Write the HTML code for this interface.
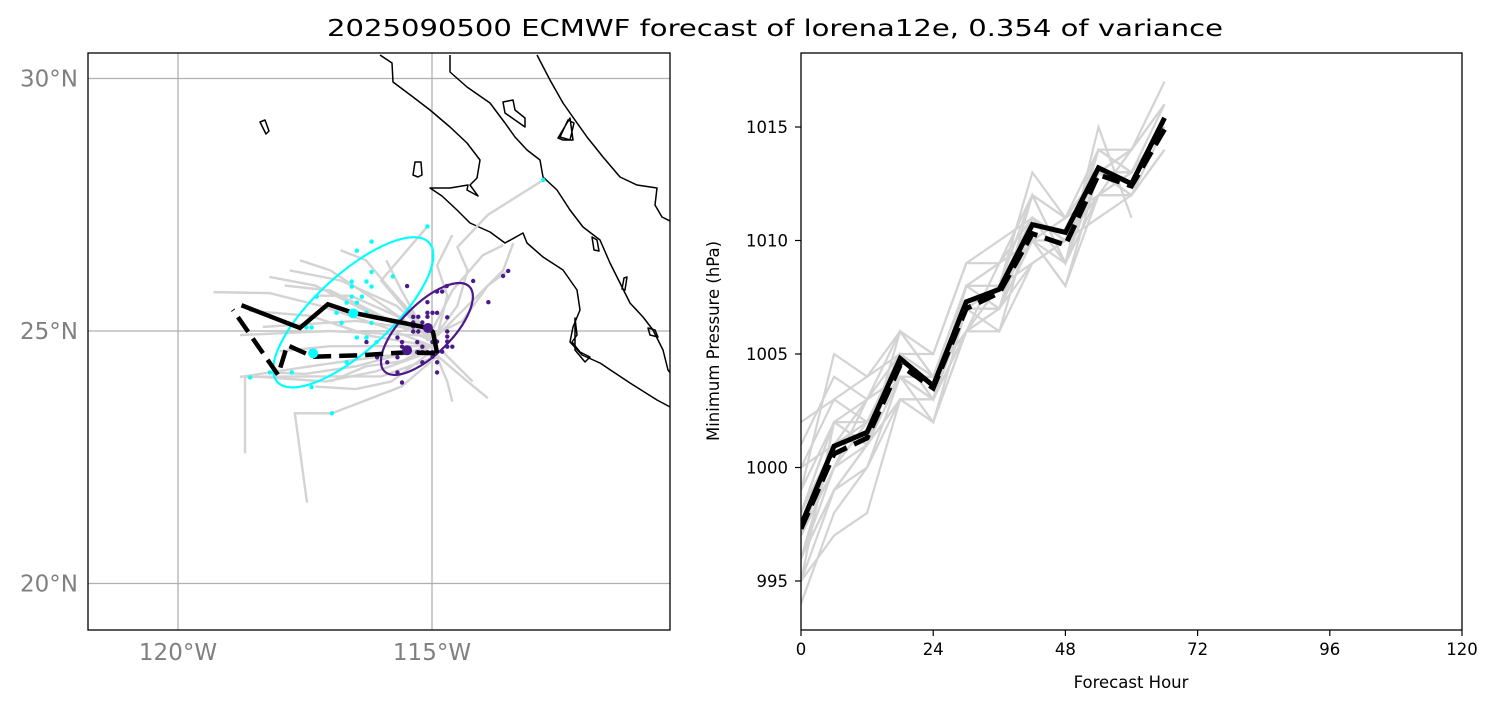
<!DOCTYPE html>
<html><head><meta charset="utf-8"><style>
html,body{margin:0;padding:0;background:#fff;}
svg{display:block;font-family:"DejaVu Sans","Liberation Sans",sans-serif;}
</style></head><body>
<svg id="fig" width="1496" height="708" viewBox="0 0 1496 708">
<defs><clipPath id="mapclip"><rect x="88" y="53" width="582" height="577"/></clipPath>
<clipPath id="pclip"><rect x="801" y="53" width="661" height="577"/></clipPath></defs>
<text x="775" y="36" text-anchor="middle" font-size="23" textLength="896" lengthAdjust="spacingAndGlyphs">2025090500 ECMWF forecast of lorena12e, 0.354 of variance</text>
<g id="map"></g>
<g id="pres"></g>
</svg>
<script>
// ---------- MAP DATA ----------
const latTicks=[20,25,30];
const lonTicks=[-120,-115];
const meanTrack=[[-114.94,24.56],[-115.49,24.58],[-116.4,24.52],[-117.34,24.49],[-117.85,24.72],[-118.03,24.13],[-118.92,25.42]];
const detTrack=[[-114.9,24.56],[-114.98,24.98],[-115.08,25.06],[-116.55,25.36],[-117.05,25.53],[-117.6,25.06],[-118.75,25.51]];
const memberTracks=[
[[-115.0,24.7],[-116,25.1],[-117.2,25.5],[-118.2,25.75],[-119.3,25.77]],
[[-115.0,24.8],[-116.3,25.4],[-117.3,25.9],[-118.2,26.07]],
[[-115.1,24.9],[-116.1,25.6],[-117.0,26.2],[-117.6,26.4]],
[[-115.0,24.9],[-115.8,25.8],[-116.3,26.4],[-116.8,26.6]],
[[-114.9,24.6],[-116,24.5],[-117.4,24.3],[-118.78,24.09]],
[[-114.9,24.5],[-116.0,24.1],[-117.5,24.1],[-118.68,24.09],[-118.68,22.58]],
[[-114.9,24.5],[-115.6,23.9],[-116.97,23.37],[-117.7,23.37],[-117.46,21.6]],
[[-115.0,24.6],[-114.3,24.0],[-113.9,23.67]],
[[-115.0,24.8],[-114.5,25.5],[-114.3,26.2],[-114.5,26.66],[-113.9,27.3],[-112.81,27.99]],
[[-114.9,24.9],[-114.2,25.6],[-113.6,26.2],[-113.4,26.74]],
[[-115.0,25.0],[-116.5,25.2],[-118.33,25.08]],
[[-115.0,24.9],[-117,25.0],[-118.78,24.92]],
[[-115.0,24.8],[-116,26.0],[-115.09,27.07]],
[[-115.1,24.8],[-114.6,25.8],[-114.0,26.5],[-113.6,26.7]],
[[-115,24.7],[-116.5,24.3],[-117.5,24.15],[-118.2,24.18]],
[[-114.9,24.8],[-115.7,25.5],[-116.8,26.0],[-117.8,26.2]],
[[-114.95,24.6],[-114.7,24.0],[-114.6,23.6]],
[[-115,24.9],[-114.4,25.2],[-113.9,25.9],[-113.5,26.2]],
[[-115,24.7],[-115.6,24.4],[-116.3,24.3],[-117,24.0]],
[[-114.9,24.8],[-115.7,25.3],[-116.6,25.7],[-117.3,25.7]],
[[-115.0,24.7],[-116.2,24.9],[-117.4,25.3],[-118.6,25.4]],
[[-115.0,24.8],[-116.0,25.3],[-117.0,25.8],[-117.9,25.9]],
[[-114.9,24.7],[-116.0,24.7],[-117.0,24.7],[-118.0,24.6]],
[[-115.0,24.6],[-116.1,24.2],[-117.1,24.0],[-118.5,24.1]],
[[-114.8,24.6],[-114.5,24.3],[-114.2,24.0]],
[[-115.1,24.9],[-115.6,25.8],[-115.9,26.4]],
[[-114.9,24.9],[-114.7,25.7],[-114.9,26.3],[-114.6,26.9]],
[[-115.0,24.6],[-115.8,24.0],[-116.5,23.85],[-117.3,23.9]]
];
const cyanLon=[-115.09,-116.19,-116.48,-115.77,-116.19,-116.58,-116.29,-116.58,-116.19,-117.27,-116.58,-116.38,-116.68,-116.48,-116.88,-116.29,-116.78,-116.19,-116.09,-117.47,-117.37,-116.48,-116.29,-116.09,-116.68,-117.76,-118.19,-118.58,-117.37,-116.97,-112.81,-115.66];
const cyanLat=[27.07,26.77,26.59,26.08,26.17,25.98,25.98,25.88,25.88,25.68,25.68,25.68,25.56,25.56,25.36,25.36,25.16,25.16,25.27,25.07,25.07,24.87,24.87,24.78,24.38,24.18,24.18,24.08,23.89,23.37,27.99,25.16];
const purpLon=[-115.49,-114.71,-114.90,-114.80,-114.19,-113.60,-113.50,-113.89,-115.09,-115.37,-115.27,-115.09,-114.99,-114.90,-114.70,-115.09,-115.19,-115.37,-115.37,-115.27,-115.37,-114.70,-114.70,-114.70,-114.90,-116.29,-115.68,-115.59,-115.59,-115.29,-115.19,-114.70,-114.60,-115.29,-115.19,-115.09,-114.99,-114.99,-116.08,-115.68,-115.19,-114.90,-115.88,-115.68,-114.90,-115.59,-114.99,-114.80];
const purpLat=[25.89,25.89,25.78,25.78,25.99,26.09,26.19,25.57,25.57,25.28,25.28,25.36,25.36,25.36,25.27,25.28,25.17,25.17,25.09,24.99,24.99,24.99,24.89,24.79,24.79,24.78,24.87,24.78,24.69,24.78,24.69,24.69,24.69,24.58,24.58,24.58,24.58,24.49,24.48,24.48,24.38,24.38,24.38,24.18,24.18,23.98,24.78,24.59];
const cyanMean=[[-116.55,25.35],[-117.34,24.56]];
const purpMean=[[-115.08,25.06],[-115.49,24.62]];

// ---------- PRESSURE DATA ----------
const hours=[0,6,12,18,24,30,36,42,48,54,60,66];
const xTicks=[0,24,48,72,96,120];
const yTicks=[995,1000,1005,1010,1015];
const detPres=[997.45,1000.94,1001.55,1004.8,1003.6,1007.3,1007.85,1010.7,1010.36,1013.2,1012.5,1015.4];
const meanPres=[997.3,1000.6,1001.3,1004.5,1003.5,1007.0,1007.7,1010.3,1009.8,1012.9,1012.4,1014.9];
const memberPres=[
[996,999,1001,1003,1003,1006,1007,1009,1010,1012,1013,1015],
[998,1002,1003,1006,1004,1008,1009,1012,1011,1013,1014,1017],
[995,997,998,1003,1002,1006,1006,1009,1010,1013,1014,1016],
[1001,1004,1003,1005,1004,1007,1008,1010,1008,1012,1012,1014],
[997,1001,1002,1004,1003,1007,1007,1011,1009,1015,1011],
[994,998,1000,1004,1003,1008,1008,1013,1011,1013,1014],
[999,1005,1004,1005,1005,1009,1010,1011,1010,1012,1012],
[996,1000,1002,1004,1002,1006,1007,1010,1009,1012,1012,1014],
[1000,1003,1002,1005,1004,1008,1008,1011,1010,1012,1013],
[997,1000,1001,1003,1003,1006,1008,1009,1010,1013,1012,1015],
[995,1002,1001,1004,1003,1006,1008,1012,1009,1014,1013],
[998,1001,1003,1004,1004,1008,1009,1010,1011,1013,1013,1015],
[996,999,1000,1003,1002,1007,1006,1011,1010,1011,1012],
[999,1002,1001,1006,1004,1007,1008,1010,1008,1013,1012],
[1002,1003,1004,1006,1005,1009,1009,1012,1011,1014,1014,1016],
[998,1002,1002,1005,1003,1008,1007,1011,1010,1013,1013],
[996,1001,1002,1004,1004,1007,1008,1010,1010,1012,1013,1015],
[997,1000,1003,1004,1003,1007,1007,1012,1009,1013,1012],
[1000,1001,1002,1004,1004,1006,1009,1011,1010,1014,1013,1016],
[995,999,1001,1005,1003,1008,1007,1010,1011,1012,1014]
];

const NS='http://www.w3.org/2000/svg';
function mk(parent,tag,attrs){const e=document.createElementNS(NS,tag);for(const k in attrs)e.setAttribute(k,attrs[k]);parent.appendChild(e);return e;}
const lonX=lon=>178+(lon+120)*50.8;
const latY=lat=>331-(lat-25)*50.5;
const hX=h=>801+h*(661/120);
const pY=p=>127+(1015-p)*22.7;

// ---------- MAP ----------
const map=document.getElementById('map');
const mc=mk(map,'g',{'clip-path':'url(#mapclip)'});


latTicks.forEach(t=>{const l=mk(mc,'line',{x1:88,x2:670,y1:latY(t),y2:latY(t),stroke:'#b0b0b0','stroke-width':1.3});

});
lonTicks.forEach(t=>{const l=mk(mc,'line',{x1:lonX(t),x2:lonX(t),y1:53,y2:630,stroke:'#b0b0b0','stroke-width':1.3});

});
const coasts=[
"M380,55 L392,63 L393,82 L413,97 L430,110 L450,127 L467,143 L480,160 L477,178 L470,185 L478,196 L467,190 L468,185 L450,188 L430,188 L442,196 L457,210 L470,223 L490,232 L505,243 L523,233 L527,243 L543,257 L563,270 L577,290 L580,310 L573,327 L570,342 L582,355 L600,363 L630,383 L657,400 L672,408",
"M450,55 L450,72 L467,87 L490,103 L505,123 L515,137 L527,150 L540,160 L543,177 L557,190 L570,210 L583,227 L600,240 L610,263 L620,283 L630,303 L643,317 L653,330 L663,350 L668,370 L672,375",
"M537,55 L550,80 L563,103 L570,113 L587,137 L603,157 L620,177 L637,185 L657,188 L655,205 L662,217 L672,222",
"M503,102 L513,100 L515,110 L525,118 L525,127 L515,120 L505,113 Z",
"M558,138 L570,118 L573,140 L570,140 L563,140 Z M560,137 L568,120 L574,123 L570,140 Z",
"M415,162 L421,162 L422,175 L418,177 L413,175 Z",
"M260,122 L265,120 L269,131 L266,134 Z",
"M592,237 L597,240 L599,251 L594,250 Z",
"M624,278 L627,277 L625,290 L622,289 Z",
"M648,328 L655,330 L658,337 L650,335 Z",
"M575,318 L577,335 L572,342 L580,352 L590,357 L585,362 L575,350 Z"
];
coasts.forEach(d=>{const p=mk(mc,'path',{d:d,fill:'none',stroke:'#000','stroke-width':1.5,'stroke-linejoin':'round'});

});
memberTracks.forEach(tr=>{const p=mk(mc,'polyline',{points:tr.map(q=>lonX(q[0])+','+latY(q[1])).join(' '),fill:'none',stroke:'#d3d3d3','stroke-width':2.4});

});
cyanLon.forEach((lo,i)=>{const c=mk(mc,'circle',{cx:lonX(lo),cy:latY(cyanLat[i]),r:2.2,fill:'#00ffff'});

});
purpLon.forEach((lo,i)=>{const c=mk(mc,'circle',{cx:lonX(lo),cy:latY(purpLat[i]),r:2.2,fill:'#4b1a8a'});

});
let e1=mk(mc,'ellipse',{cx:lonX(-116.55),cy:latY(25.37),rx:103,ry:38,transform:`rotate(-42.6 ${lonX(-116.55)} ${latY(25.37)})`,fill:'none',stroke:'#00ffff','stroke-width':2.2});


let e2=mk(mc,'ellipse',{cx:lonX(-115.1),cy:latY(25.04),rx:60,ry:25,transform:`rotate(-45 ${lonX(-115.1)} ${latY(25.04)})`,fill:'none',stroke:'#4b1a8a','stroke-width':2.2});


let dt=mk(mc,'polyline',{points:detTrack.map(q=>lonX(q[0])+','+latY(q[1])).join(' '),fill:'none',stroke:'#000','stroke-width':4.5,'stroke-linejoin':'miter'});


let mt=mk(mc,'polyline',{points:meanTrack.map(q=>lonX(q[0])+','+latY(q[1])).join(' '),fill:'none',stroke:'#000','stroke-width':4.5,'stroke-dasharray':'18,8'});


cyanMean.forEach(q=>{const c=mk(mc,'circle',{cx:lonX(q[0]),cy:latY(q[1]),r:5,fill:'#00ffff'});

});
purpMean.forEach(q=>{const c=mk(mc,'circle',{cx:lonX(q[0]),cy:latY(q[1]),r:5,fill:'#4b1a8a'});

});
let mf=mk(map,'rect',{x:88,y:53,width:582,height:577,fill:'none',stroke:'#000','stroke-width':1.3});


latTicks.forEach(t=>{const tx=mk(map,'text',{x:78,y:latY(t)+8,'text-anchor':'end','font-size':23,fill:'#808080'});tx.textContent=t+'°N';

});
lonTicks.forEach(t=>{const tx=mk(map,'text',{x:lonX(t),y:660,'text-anchor':'middle','font-size':23,fill:'#808080'});tx.textContent=(-t)+'°W';

});

// ---------- PRESSURE ----------
const pr=document.getElementById('pres');
const pc=mk(pr,'g',{'clip-path':'url(#pclip)'});


memberPres.forEach(m=>{const p=mk(pc,'polyline',{points:m.map((v,i)=>hX(hours[i])+','+pY(v)).join(' '),fill:'none',stroke:'#d3d3d3','stroke-width':2.2});

});
let dp=mk(pc,'polyline',{points:detPres.map((v,i)=>hX(hours[i])+','+pY(v)).join(' '),fill:'none',stroke:'#000','stroke-width':5});


let mp=mk(pc,'polyline',{points:meanPres.map((v,i)=>hX(hours[i])+','+pY(v)).join(' '),fill:'none',stroke:'#000','stroke-width':5,'stroke-dasharray':'18,8'});


let pf=mk(pr,'rect',{x:801,y:53,width:661,height:577,fill:'none',stroke:'#000','stroke-width':1.3});


xTicks.forEach(t=>{mk(pr,'line',{x1:hX(t),x2:hX(t),y1:630,y2:636,stroke:'#000','stroke-width':1.2});
const tx=mk(pr,'text',{x:hX(t),y:655,'text-anchor':'middle','font-size':16.5});tx.textContent=t;

});
yTicks.forEach(t=>{mk(pr,'line',{x1:795,x2:801,y1:pY(t),y2:pY(t),stroke:'#000','stroke-width':1.2});
const tx=mk(pr,'text',{x:788,y:pY(t)+6,'text-anchor':'end','font-size':16.5});tx.textContent=t;

});
let xl=mk(pr,'text',{x:1131,y:688,'text-anchor':'middle','font-size':16.5});xl.textContent='Forecast Hour';


let yl=mk(pr,'text',{x:0,y:0,'text-anchor':'middle','font-size':16.5,transform:'translate(719,341) rotate(-90)'});yl.textContent='Minimum Pressure (hPa)';


</script>
</body></html>
